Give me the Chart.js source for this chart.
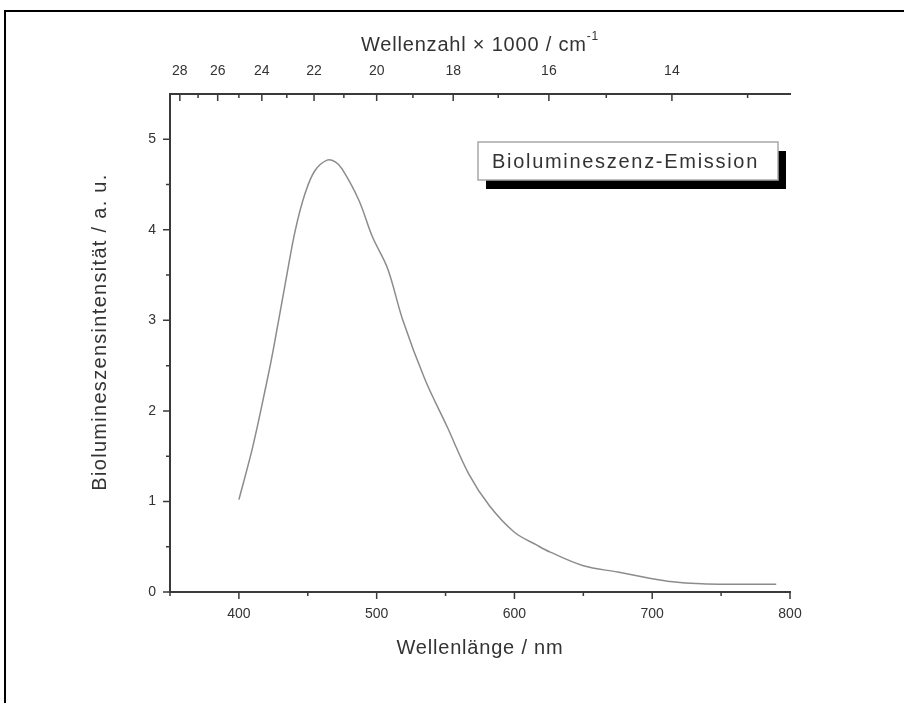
<!DOCTYPE html>
<html>
<head>
<meta charset="utf-8">
<script src="https://cdn.jsdelivr.net/npm/chart.js@4"></script>
<style>
  html, body { margin: 0; background: #fff; overflow: hidden; }
  canvas { display: block; }
</style>
</head>
<body>
<canvas id="emission" width="904" height="703"></canvas>
<script>
// emission spectrum, read as wavelength (nm) / intensity (a. u.)
const wavelength = [400, 410, 420, 425, 435, 441, 448, 455, 464, 470, 475, 487, 497, 508, 519,
                    535, 551, 567, 582, 600, 616, 626, 650, 675, 699, 711, 736, 760, 790];
const intensity = [1.02, 1.6, 2.3, 2.68, 3.52, 4.0, 4.4, 4.65, 4.77, 4.75, 4.67, 4.33, 3.92, 3.57, 3.0,
                   2.35, 1.83, 1.3, 0.95, 0.66, 0.52, 0.44, 0.29, 0.22, 0.15, 0.12, 0.09, 0.085, 0.085];

const nmTicks = [400, 500, 600, 700, 800];
const nmMinor = [350, 450, 550, 650, 750];
const yTicks = [0, 1, 2, 3, 4, 5];
const yMinor = [0.5, 1.5, 2.5, 3.5, 4.5];
// wavenumber axis, in 1000 cm^-1
const kTicks = [28, 26, 24, 22, 20, 18, 16, 14];
const kMinor = [27, 25, 23, 21, 19, 17, 15, 13];

const xTitle = 'Wellenlänge / nm';
const x2Title = 'Wellenzahl × 1000 / cm';
const x2TitleSup = '-1';
const yTitle = 'Biolumineszensintensität / a. u.';
const legendText = 'Biolumineszenz-Emission';

const toNm = k => 1e4 / k;
const font = 'Liberation Sans, Arial, sans-serif';
const axisColor = '#3a3a3a';
const textColor = '#333';

const axesPlugin = {
  id: 'axesPlugin',
  beforeDraw(chart) {
    // page frame, open to the right and bottom
    const ctx = chart.ctx;
    ctx.save();
    ctx.fillStyle = '#000';
    ctx.fillRect(4, 10, chart.width, 2);
    ctx.fillRect(4, 10, 2, chart.height);
    ctx.restore();
  },
  afterDraw(chart) {
    const ctx = chart.ctx;
    const x = chart.scales.x, y = chart.scales.y, x2 = chart.scales.x2;
    const a = chart.chartArea;
    const cx = (a.left + a.right) / 2;
    ctx.save();
    ctx.strokeStyle = axisColor;
    ctx.lineWidth = 2;
    ctx.beginPath();
    ctx.moveTo(a.left, a.top); ctx.lineTo(a.left, a.bottom + 1);
    ctx.moveTo(a.left - 1, a.bottom); ctx.lineTo(a.right + 1, a.bottom);
    ctx.moveTo(a.left - 1, a.top); ctx.lineTo(a.right + 1, a.top);
    ctx.stroke();

    ctx.lineWidth = 1.5;
    ctx.beginPath();
    // bottom: outward
    nmTicks.forEach(v => { const p = x.getPixelForValue(v); ctx.moveTo(p, a.bottom); ctx.lineTo(p, a.bottom + 7); });
    nmMinor.forEach(v => { const p = x.getPixelForValue(v); ctx.moveTo(p, a.bottom); ctx.lineTo(p, a.bottom + 4); });
    // left: outward
    yTicks.forEach(v => { const p = y.getPixelForValue(v); ctx.moveTo(a.left, p); ctx.lineTo(a.left - 7, p); });
    yMinor.forEach(v => { const p = y.getPixelForValue(v); ctx.moveTo(a.left, p); ctx.lineTo(a.left - 4, p); });
    // top: inward
    kTicks.forEach(k => { const p = x2.getPixelForValue(toNm(k)); ctx.moveTo(p, a.top); ctx.lineTo(p, a.top + 7); });
    kMinor.forEach(k => { const p = x2.getPixelForValue(toNm(k)); ctx.moveTo(p, a.top); ctx.lineTo(p, a.top + 4); });
    ctx.stroke();

    // axis titles
    ctx.fillStyle = textColor;
    ctx.textBaseline = 'middle';
    ctx.letterSpacing = '0.8px';
    ctx.font = '20px ' + font;
    ctx.textAlign = 'center';
    ctx.fillText(xTitle, cx, 648);

    // top title with superscript
    const mainW = ctx.measureText(x2Title).width;
    ctx.font = '12px ' + font;
    const supW = ctx.measureText(x2TitleSup).width;
    const sx = cx - (mainW + supW) / 2;
    ctx.textAlign = 'left';
    ctx.fillText(x2TitleSup, sx + mainW, 37);
    ctx.font = '20px ' + font;
    ctx.fillText(x2Title, sx, 45);

    ctx.save();
    ctx.translate(100, 332);
    ctx.rotate(-Math.PI / 2);
    ctx.textAlign = 'center';
    ctx.letterSpacing = '1.3px';
    ctx.fillText(yTitle, 0, 0);
    ctx.restore();

    // legend box with drop shadow
    const bx = 478, by = 142, bw = 300, bh = 38;
    ctx.fillStyle = '#000';
    ctx.fillRect(bx + 8, by + 9, bw, bh);
    ctx.fillStyle = '#fff';
    ctx.fillRect(bx, by, bw, bh);
    ctx.strokeStyle = '#a8a8a8';
    ctx.lineWidth = 1.5;
    ctx.strokeRect(bx, by, bw, bh);
    ctx.fillStyle = textColor;
    ctx.textAlign = 'left';
    ctx.letterSpacing = '1.7px';
    ctx.font = '20px ' + font;
    ctx.fillText(legendText, bx + 14, by + bh / 2 + 1);
    ctx.restore();
  }
};

const tickFont = { family: font, size: 14 };

new Chart(document.getElementById('emission'), {
  type: 'line',
  data: {
    datasets: [{
      data: wavelength.map((w, i) => ({ x: w, y: intensity[i] })),
      borderColor: '#8c8c8c',
      borderWidth: 1.5,
      pointRadius: 0,
      tension: 0.35,
      fill: false
    }]
  },
  options: {
    responsive: false,
    animation: false,
    layout: { padding: { left: 0, right: 114, top: 0, bottom: 0 } },
    plugins: { legend: { display: false }, tooltip: { enabled: false } },
    scales: {
      x: {
        type: 'linear', position: 'bottom', min: 350, max: 800,
        afterBuildTicks: s => { s.ticks = nmTicks.map(v => ({ value: v })); },
        afterFit: s => { s.height = 111; },
        grid: { drawOnChartArea: false, drawTicks: false },
        border: { display: false },
        ticks: { color: textColor, font: tickFont, padding: 14, maxRotation: 0 }
      },
      x2: {
        type: 'linear', position: 'top', min: 350, max: 800,
        afterBuildTicks: s => { s.ticks = kTicks.map(k => ({ value: toNm(k) })); },
        afterFit: s => { s.height = 94; },
        grid: { drawOnChartArea: false, drawTicks: false },
        border: { display: false },
        ticks: { color: textColor, font: tickFont, padding: 14, maxRotation: 0, autoSkip: false,
                 callback: v => Math.round(1e4 / v) }
      },
      y: {
        type: 'linear', min: 0, max: 5.5,
        afterBuildTicks: s => { s.ticks = yTicks.map(v => ({ value: v })); },
        afterFit: s => { s.width = 170; },
        grid: { drawOnChartArea: false, drawTicks: false },
        border: { display: false },
        ticks: { color: textColor, font: tickFont, padding: 14 }
      }
    }
  },
  plugins: [axesPlugin]
});
</script>
</body>
</html>
